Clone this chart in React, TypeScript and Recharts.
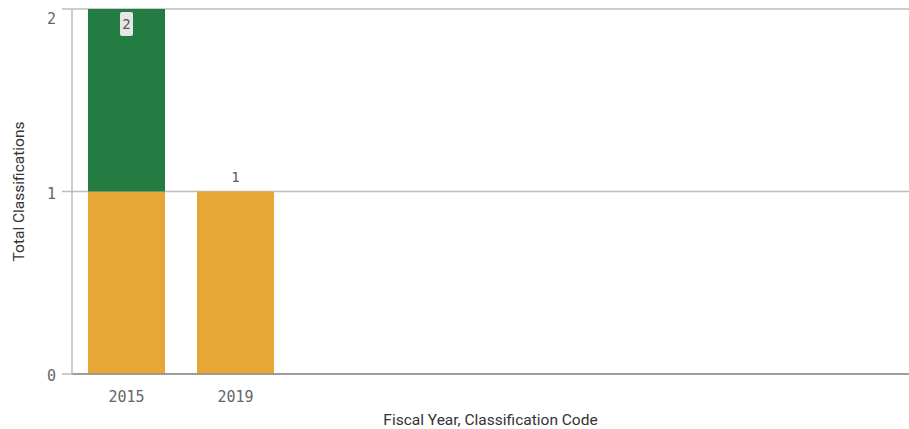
import React from 'react'
import { BarChart, Bar, XAxis, YAxis, CartesianGrid, LabelList } from 'recharts'

const years = ['2015', '2019']
const orangeValues = [1, 1]
const greenValues = [1, 0]
const yTicks = [0, 1, 2]

const ORANGE = '#e8a635'
const GREEN = '#237d42'

const data = years.map((y, i) => ({
  year: y,
  orange: orangeValues[i],
  green: greenValues[i],
  total: orangeValues[i] + greenValues[i],
}))

const plotTop = 9

// total label goes on the highest non-empty segment of each stack
function TotalLabel(props: any) {
  const { x, y, width, index, series } = props
  const row = data[index]
  const top = row.green > 0 ? 'green' : 'orange'
  if (series !== top) return null
  const cx = x + width / 2
  if (y - 22 < plotTop) {
    return (
      <g>
        <rect x={cx - 6.5} y={y + 3} width={13} height={24} rx={2} fill="#e6e6e6" />
        <text x={cx} y={y + 20} textAnchor="middle" fontFamily="DejaVu Sans Mono" fontSize={14} fill="#595959">
          {row.total}
        </text>
      </g>
    )
  }
  return (
    <text x={cx} y={y - 10} textAnchor="middle" fontFamily="DejaVu Sans Mono" fontSize={14} fill="#595959">
      {row.total}
    </text>
  )
}

// top tick label is pushed down so it stays inside the plot
function YTick(props: any) {
  const { x, y, payload } = props
  const ty = y < plotTop + 4 ? y + 15 : y + 7
  return (
    <text x={x} y={ty} textAnchor="end" fontFamily="DejaVu Sans Mono" fontSize={15} fill="#666">
      {payload.value}
    </text>
  )
}

export default function App() {
  return (
    <div style={{ position: 'absolute', left: 0, top: 0 }}>
      <BarChart width={909} height={429} data={data} margin={{ top: plotTop, right: 0, bottom: 0, left: 0 }}>
        <CartesianGrid vertical={false} stroke="#bdbdbd" strokeWidth={1.5} />
        <XAxis
          dataKey="year"
          padding={{ left: 0, right: 619 }}
          height={55}
          tickLine={false}
          axisLine={{ stroke: '#8c8c8c', strokeWidth: 1.5 }}
          tick={{ fontFamily: 'DejaVu Sans Mono', fontSize: 15, fill: '#666' }}
          tickMargin={11}
          label={{ value: 'Fiscal Year, Classification Code', position: 'insideBottom', offset: 4, style: { fontFamily: 'Roboto', fontSize: 15.5, fill: '#333' } }}
        />
        <YAxis
          width={72}
          domain={[0, 2]}
          ticks={yTicks}
          interval={0}
          tickSize={10}
          tickMargin={6}
          tickLine={{ stroke: '#bdbdbd', strokeWidth: 1.5 }}
          axisLine={{ stroke: '#bdbdbd', strokeWidth: 1.5 }}
          tick={<YTick />}
          label={{ value: 'Total Classifications', angle: -90, position: 'insideLeft', offset: 18, style: { textAnchor: 'middle', fontFamily: 'Roboto', fontSize: 15.5, fill: '#333' } }}
        />
        <Bar dataKey="orange" stackId="a" fill={ORANGE} barSize={77} isAnimationActive={false}>
          <LabelList dataKey="total" content={<TotalLabel series="orange" />} />
        </Bar>
        <Bar dataKey="green" stackId="a" fill={GREEN} barSize={77} isAnimationActive={false}>
          <LabelList dataKey="total" content={<TotalLabel series="green" />} />
        </Bar>
      </BarChart>
    </div>
  )
}
